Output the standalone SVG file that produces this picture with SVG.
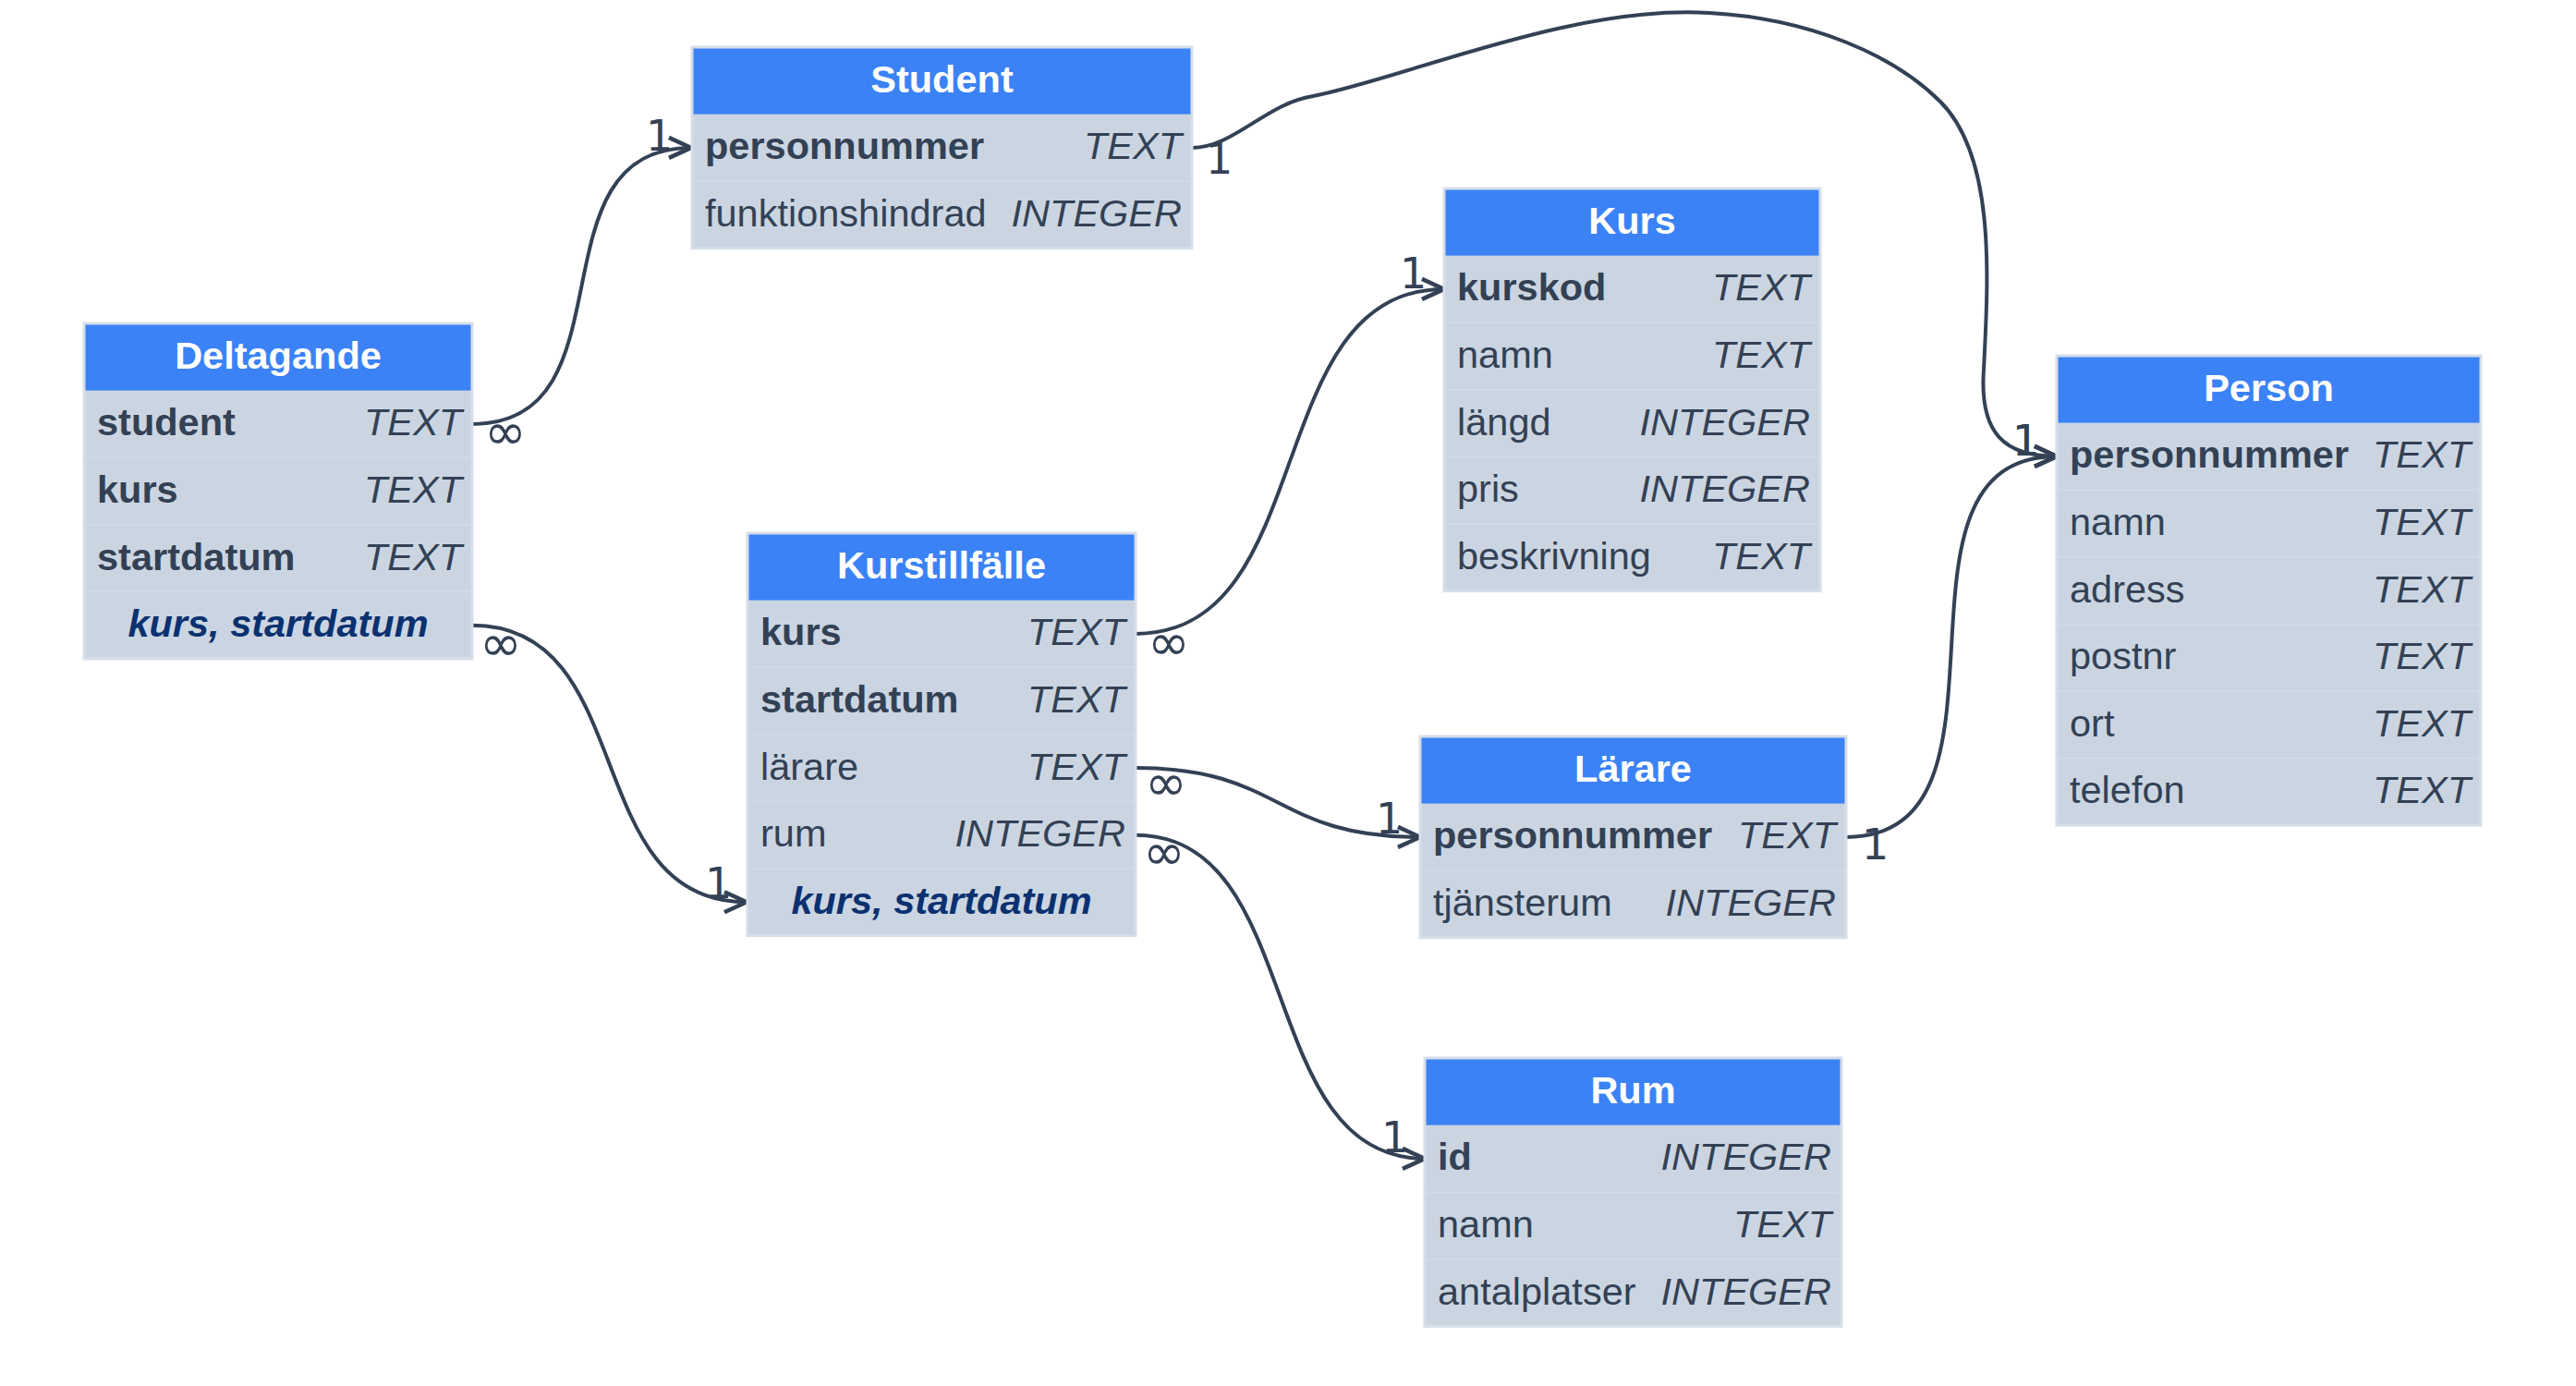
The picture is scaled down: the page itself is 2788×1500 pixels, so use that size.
<svg xmlns="http://www.w3.org/2000/svg" width="2788" height="1500" viewBox="0 0 2788 1500">
<defs>
<style>
.hdr{fill:#3b82f6}
.body{fill:#cbd5e1}
.frame{fill:none;stroke:#d6dee9;stroke-width:3}
.sep{stroke:#d3dbe6;stroke-width:1.5}
.title{font-family:"Liberation Sans",Arial,sans-serif;font-size:41.5px;font-weight:bold;fill:#ffffff;text-anchor:middle}
.f{font-family:"Liberation Sans",Arial,sans-serif;font-size:41.5px;fill:#334155}
.pk{font-weight:bold}
.t{font-style:italic;text-anchor:end}
.idx{font-family:"Liberation Sans",Arial,sans-serif;font-size:41.5px;font-weight:bold;font-style:italic;fill:#0a3170;text-anchor:middle}
.edge{fill:none;stroke:#334155;stroke-width:4}
.lbl{font-family:"DejaVu Sans",sans-serif;font-size:46px;fill:#334155}
.inf{font-family:"DejaVu Sans",sans-serif;font-size:55px;fill:#334155}
</style>
<marker id="arr" markerUnits="userSpaceOnUse" markerWidth="40" markerHeight="40" viewBox="-30 -20 40 40" refX="-3" refY="0" orient="auto" overflow="visible">
<path d="M-27,-11 L-3,0 L-27,11" fill="none" stroke="#334155" stroke-width="4.5"/>
</marker>
</defs>
<rect width="2788" height="1500" fill="#ffffff"/>

<g id="connectors">
<path class="edge" marker-end="url(#arr)" d="M511,458.9 C688,458.9 571,159.9 748,159.9"/>
<path class="edge" marker-end="url(#arr)" d="M1290,159.9 C1335,159.9 1370,112 1421,104 C1520,85 1700,5 1850,14 C1960,20 2050,60 2100,110 C2160,170 2152,300 2147,400 C2142,470 2170,493.9 2226,493.9"/>
<path class="edge" marker-end="url(#arr)" d="M511,676.7 C693,676.7 626,976.3 808,976.3"/>
<path class="edge" marker-end="url(#arr)" d="M1229,685.9 C1429,685.9 1363,312.9 1563,312.9"/>
<path class="edge" marker-end="url(#arr)" d="M1229,831.1 C1389,831.1 1377,905.9 1537,905.9"/>
<path class="edge" marker-end="url(#arr)" d="M1229,903.7 C1414,903.7 1357,1253.9 1542,1253.9"/>
<path class="edge" marker-end="url(#arr)" d="M1998,905.9 C2203,905.9 2021,493.9 2226,493.9"/>
<text class="inf" x="524" y="486">∞</text>
<text class="lbl" x="699" y="163">1</text>
<text class="lbl" x="1305" y="188">1</text>
<text class="lbl" x="2178" y="493">1</text>
<text class="inf" x="519" y="715">∞</text>
<text class="lbl" x="763" y="972">1</text>
<text class="inf" x="1242" y="714">∞</text>
<text class="lbl" x="1515" y="312">1</text>
<text class="inf" x="1239" y="866">∞</text>
<text class="lbl" x="1489" y="902">1</text>
<text class="inf" x="1237" y="941">∞</text>
<text class="lbl" x="1495" y="1247">1</text>
<text class="lbl" x="2015" y="930">1</text>
<text class="lbl" x="2178" y="493">1</text>
</g>

<g id="node-deltagande">
<rect class="body" x="91" y="350" width="420" height="363"/>
<rect class="hdr" x="91" y="350" width="420" height="72.6"/>
<line class="sep" x1="91" y1="495.2" x2="511" y2="495.2"/>
<line class="sep" x1="91" y1="567.8" x2="511" y2="567.8"/>
<line class="sep" x1="91" y1="640.4" x2="511" y2="640.4"/>
<rect class="frame" x="91" y="350" width="420" height="363"/>
<text class="title" x="301" y="398.8">Deltagande</text>
<text class="f pk" x="105" y="471.4">student</text><text class="f t" x="500" y="471.4">TEXT</text>
<text class="f pk" x="105" y="544">kurs</text><text class="f t" x="500" y="544">TEXT</text>
<text class="f pk" x="105" y="616.6">startdatum</text><text class="f t" x="500" y="616.6">TEXT</text>
<text class="idx" x="301" y="689.2">kurs, startdatum</text>
</g>

<g id="node-student">
<rect class="body" x="749" y="51" width="541" height="217.8"/>
<rect class="hdr" x="749" y="51" width="541" height="72.6"/>
<line class="sep" x1="749" y1="196.2" x2="1290" y2="196.2"/>
<rect class="frame" x="749" y="51" width="541" height="217.8"/>
<text class="title" x="1019.5" y="99.8">Student</text>
<text class="f pk" x="763" y="172.4">personnummer</text><text class="f t" x="1279" y="172.4">TEXT</text>
<text class="f" x="763" y="245">funktionshindrad</text><text class="f t" x="1279" y="245">INTEGER</text>
</g>

<g id="node-kurs">
<rect class="body" x="1563" y="204" width="407" height="435.6"/>
<rect class="hdr" x="1563" y="204" width="407" height="72.6"/>
<line class="sep" x1="1563" y1="349.2" x2="1970" y2="349.2"/>
<line class="sep" x1="1563" y1="421.8" x2="1970" y2="421.8"/>
<line class="sep" x1="1563" y1="494.4" x2="1970" y2="494.4"/>
<line class="sep" x1="1563" y1="567" x2="1970" y2="567"/>
<rect class="frame" x="1563" y="204" width="407" height="435.6"/>
<text class="title" x="1766.5" y="252.8">Kurs</text>
<text class="f pk" x="1577" y="325.4">kurskod</text><text class="f t" x="1959" y="325.4">TEXT</text>
<text class="f" x="1577" y="398">namn</text><text class="f t" x="1959" y="398">TEXT</text>
<text class="f" x="1577" y="470.6">längd</text><text class="f t" x="1959" y="470.6">INTEGER</text>
<text class="f" x="1577" y="543.2">pris</text><text class="f t" x="1959" y="543.2">INTEGER</text>
<text class="f" x="1577" y="615.8">beskrivning</text><text class="f t" x="1959" y="615.8">TEXT</text>
</g>

<g id="node-person">
<rect class="body" x="2226" y="385" width="459" height="508.2"/>
<rect class="hdr" x="2226" y="385" width="459" height="72.6"/>
<line class="sep" x1="2226" y1="530.2" x2="2685" y2="530.2"/>
<line class="sep" x1="2226" y1="602.8" x2="2685" y2="602.8"/>
<line class="sep" x1="2226" y1="675.4" x2="2685" y2="675.4"/>
<line class="sep" x1="2226" y1="748" x2="2685" y2="748"/>
<line class="sep" x1="2226" y1="820.6" x2="2685" y2="820.6"/>
<rect class="frame" x="2226" y="385" width="459" height="508.2"/>
<text class="title" x="2455.5" y="433.8">Person</text>
<text class="f pk" x="2240" y="506.4">personnummer</text><text class="f t" x="2674" y="506.4">TEXT</text>
<text class="f" x="2240" y="579">namn</text><text class="f t" x="2674" y="579">TEXT</text>
<text class="f" x="2240" y="651.6">adress</text><text class="f t" x="2674" y="651.6">TEXT</text>
<text class="f" x="2240" y="724.2">postnr</text><text class="f t" x="2674" y="724.2">TEXT</text>
<text class="f" x="2240" y="796.8">ort</text><text class="f t" x="2674" y="796.8">TEXT</text>
<text class="f" x="2240" y="869.4">telefon</text><text class="f t" x="2674" y="869.4">TEXT</text>
</g>

<g id="node-kurstillfalle">
<rect class="body" x="809" y="577" width="420" height="435.6"/>
<rect class="hdr" x="809" y="577" width="420" height="72.6"/>
<line class="sep" x1="809" y1="722.2" x2="1229" y2="722.2"/>
<line class="sep" x1="809" y1="794.8" x2="1229" y2="794.8"/>
<line class="sep" x1="809" y1="867.4" x2="1229" y2="867.4"/>
<line class="sep" x1="809" y1="940" x2="1229" y2="940"/>
<rect class="frame" x="809" y="577" width="420" height="435.6"/>
<text class="title" x="1019" y="625.8">Kurstillfälle</text>
<text class="f pk" x="823" y="698.4">kurs</text><text class="f t" x="1218" y="698.4">TEXT</text>
<text class="f pk" x="823" y="771">startdatum</text><text class="f t" x="1218" y="771">TEXT</text>
<text class="f" x="823" y="843.6">lärare</text><text class="f t" x="1218" y="843.6">TEXT</text>
<text class="f" x="823" y="916.2">rum</text><text class="f t" x="1218" y="916.2">INTEGER</text>
<text class="idx" x="1019" y="988.8">kurs, startdatum</text>
</g>

<g id="node-larare">
<rect class="body" x="1537" y="797" width="461" height="217.8"/>
<rect class="hdr" x="1537" y="797" width="461" height="72.6"/>
<line class="sep" x1="1537" y1="942.2" x2="1998" y2="942.2"/>
<rect class="frame" x="1537" y="797" width="461" height="217.8"/>
<text class="title" x="1767.5" y="845.8">Lärare</text>
<text class="f pk" x="1551" y="918.4">personnummer</text><text class="f t" x="1987" y="918.4">TEXT</text>
<text class="f" x="1551" y="991">tjänsterum</text><text class="f t" x="1987" y="991">INTEGER</text>
</g>

<g id="node-rum">
<rect class="body" x="1542" y="1145" width="451" height="290.4"/>
<rect class="hdr" x="1542" y="1145" width="451" height="72.6"/>
<line class="sep" x1="1542" y1="1290.2" x2="1993" y2="1290.2"/>
<line class="sep" x1="1542" y1="1362.8" x2="1993" y2="1362.8"/>
<rect class="frame" x="1542" y="1145" width="451" height="290.4"/>
<text class="title" x="1767.5" y="1193.8">Rum</text>
<text class="f pk" x="1556" y="1266.4">id</text><text class="f t" x="1982" y="1266.4">INTEGER</text>
<text class="f" x="1556" y="1339">namn</text><text class="f t" x="1982" y="1339">TEXT</text>
<text class="f" x="1556" y="1411.6">antalplatser</text><text class="f t" x="1982" y="1411.6">INTEGER</text>
</g>
</svg>
